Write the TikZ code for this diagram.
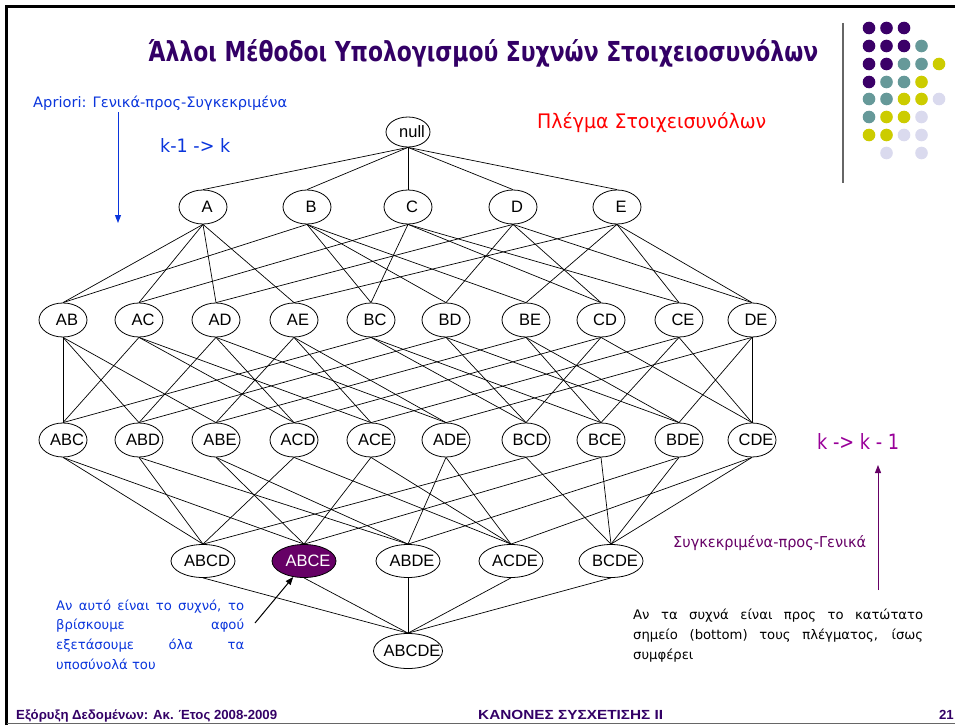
\documentclass[tikz,border=0pt]{standalone}
\usepackage{fontspec}
\usepackage{graphicx}
\setmainfont{DejaVu Sans}
\newfontfamily\arialfont{Liberation Sans}
\newfontfamily\handfont{DejaVu Sans}
\usetikzlibrary{shapes.geometric,arrows.meta}

\definecolor{titlepurple}{HTML}{330066}
\definecolor{dP}{HTML}{3B0068}
\definecolor{dT}{HTML}{669999}
\definecolor{dY}{HTML}{CCCC00}
\definecolor{dL}{HTML}{DADAEE}
\definecolor{noteblue}{HTML}{0A35DC}
\definecolor{magpurple}{HTML}{990099}
\definecolor{darkmag}{HTML}{660066}
\definecolor{latred}{HTML}{FF0000}

% label inside a lattice ellipse, nudged a little to the right
\newcommand{\lbl}[1]{\makebox[0pt]{\hspace*{8pt}#1}}

\tikzset{
  setnode/.style={ellipse, draw, line width=0.8pt, inner sep=0pt,
    font=\arialfont\fontsize{16.5}{19}\selectfont,
    minimum width=48pt, minimum height=34pt},
  topnode/.style={setnode, minimum width=44pt, minimum height=30pt},
  quadnode/.style={setnode, minimum width=64pt, minimum height=33pt},
  fullnode/.style={setnode, minimum width=69pt, minimum height=35pt},
  hit/.style={fill=darkmag, text=white},
  edge/.style={line width=0.7pt},
  txt/.style={anchor=base west, inner sep=0pt},
  foot/.style={txt, text=titlepurple, font=\arialfont\bfseries\fontsize{13.2}{15}\selectfont},
  note/.style={txt, font=\handfont\fontsize{13.2}{15}\selectfont},
}

\begin{document}
\begin{tikzpicture}[x=1pt,y=-1pt]
\useasboundingbox (0,0) rectangle (955,725);

% slide frame
\draw[line width=3pt] (6.5,725) -- (6.5,6.5) -- (955,6.5);
\draw[line width=1.2pt, black!60] (6.5,723.5) -- (955,723.5);
\draw[line width=1.3pt, black!60] (843,23) -- (843,183);

% dotted corner ornament
\foreach \y/\cols in {28/{dP,dP,dP},46/{dP,dP,dP,dT},64/{dP,dP,dT,dT,dY},
    82/{dP,dT,dT,dY},99/{dT,dT,dY,dY,dL},117/{dT,dY,dY,dL},
    135/{dY,dY,dL,dL},153/{none,dL,none,dL}}
  \foreach \c [count=\i from 0] in \cols
    \path[fill=\c] (869+\i*17.5,\y) circle[radius=6.3];

% title
\node[txt, text=titlepurple] (title) at (148,61.5)
  {\resizebox{670pt}{22pt}{\handfont\bfseries Άλλοι Μέθοδοι Υπολογισμού Συχνών Στοιχειοσυνόλων}};

% lattice of itemsets
\node[topnode] (null) at (408,132) {\lbl{null}};

\foreach \n/\x in {A/203,B/307,C/408,D/513,E/617}
  \node[setnode] (\n) at (\x,207) {\lbl{\n}};

\foreach \n/\x in {AB/63,AC/139,AD/216,AE/294,BC/371,BD/446,BE/526,CD/601,CE/679,DE/752}
  \node[setnode] (\n) at (\x,320) {\lbl{\n}};

\foreach \n/\x in {ABC/63,ABD/139,ABE/216,ACD/294,ACE/371,ADE/446,BCD/526,BCE/601,BDE/679,CDE/752}
  \node[setnode] (\n) at (\x,440) {\lbl{\n}};

\node[quadnode] (ABCD) at (203,561) {\lbl{ABCD}};
\node[quadnode, hit] (ABCE) at (304,561) {\lbl{ABCE}};
\node[quadnode] (ABDE) at (408,561) {\lbl{ABDE}};
\node[quadnode] (ACDE) at (511,561) {\lbl{ACDE}};
\node[quadnode] (BCDE) at (611,561) {\lbl{BCDE}};

\node[fullnode] (ABCDE) at (408,651) {\lbl{ABCDE}};

% subset edges
\foreach \c in {A,B,C,D,E}
  \draw[edge] (null.south) -- (\c.north);
\foreach \c/\ps in {AB/{A,B},AC/{A,C},AD/{A,D},AE/{A,E},BC/{B,C},
    BD/{B,D},BE/{B,E},CD/{C,D},CE/{C,E},DE/{D,E}}
  \foreach \p in \ps
    \draw[edge] (\p.south) -- (\c.north);
\foreach \c/\ps in {ABC/{AB,AC,BC},ABD/{AB,AD,BD},ABE/{AB,AE,BE},
    ACD/{AC,AD,CD},ACE/{AC,AE,CE},ADE/{AD,AE,DE},BCD/{BC,BD,CD},
    BCE/{BC,BE,CE},BDE/{BD,BE,DE},CDE/{CD,CE,DE}}
  \foreach \p in \ps
    \draw[edge] (\p.south) -- (\c.north);
\foreach \c/\ps in {ABCD/{ABC,ABD,ACD,BCD},ABCE/{ABC,ABE,ACE,BCE},
    ABDE/{ABD,ABE,ADE,BDE},ACDE/{ACD,ACE,ADE,CDE},BCDE/{BCD,BCE,BDE,CDE}}
  \foreach \p in \ps
    \draw[edge] (\p.south) -- (\c.north);
\foreach \p in {ABCD,ABCE,ABDE,ACDE,BCDE}
  \draw[edge] (\p.south) -- (ABCDE.north);

% top-down direction
\node[txt, text=noteblue] (apriori) at (33,107)
  {\resizebox{254pt}{11.5pt}{\handfont Apriori: Γενικά-προς-Συγκεκριμένα}};
\node[txt, text=noteblue] (down) at (160,152)
  {\resizebox{70pt}{14pt}{\handfont k-1 -> k}};
\coordinate (dstart) at (118,112);
\coordinate (dend) at (118,223);
\draw[noteblue, line width=1pt, -{Triangle[length=8pt,width=6pt]}] (dstart) -- (dend);

\node[txt, text=latred] (lattice) at (537,128)
  {\resizebox{229pt}{16pt}{\handfont Πλέγμα Στοιχεισυνόλων}};

% bottom-up direction
\node[txt, text=magpurple] (up) at (817,449)
  {\resizebox{82pt}{16pt}{\handfont k -> k - 1}};
\node[txt, text=darkmag] (specific) at (673,547)
  {\resizebox{193pt}{12pt}{\handfont Συγκεκριμένα-προς-Γενικά}};
\coordinate (ustart) at (878,590);
\coordinate (uend) at (878,465);
\draw[darkmag, line width=1pt, -{Triangle[length=8pt,width=6pt]}] (ustart) -- (uend);

% note on the frequent itemset
\node[note, text=noteblue] (n1) at (56,610)
  {\makebox[188pt][s]{Αν αυτό είναι το συχνό, το}};
\node[note, text=noteblue] (n2) at (56,629.7)
  {\makebox[188pt][s]{βρίσκουμε \hfill αφού}};
\node[note, text=noteblue] (n3) at (56,649.4)
  {\makebox[188pt][s]{εξετάσουμε \hfill όλα \hfill τα}};
\node[note, text=noteblue] (n4) at (56,669)
  {υποσύνολά του};
\coordinate (astart) at (255,623);
\draw[line width=1pt, -{Triangle[length=8pt,width=6pt]}] (astart) -- (ABCE.-124);

% note on the bottom of the lattice
\node[note] (m1) at (633,619)
  {\makebox[290pt][s]{Αν τα συχνά είναι προς το κατώτατο}};
\node[note] (m2) at (633,639)
  {\makebox[290pt][s]{σημείο (bottom) τους πλέγματος, ίσως}};
\node[note] (m3) at (633,659)
  {συμφέρει};

% footer
\node[foot] (f1) at (16,719) {Εξόρυξη Δεδομένων: Ακ. Έτος 2008-2009};
\node[foot] (f2) at (478,719) {\resizebox{185pt}{\height}{ΚΑΝΟΝΕΣ ΣΥΣΧΕΤΙΣΗΣ II}};
\node[foot, anchor=base east] (f3) at (954,719) {21};
\end{tikzpicture}
\end{document}
